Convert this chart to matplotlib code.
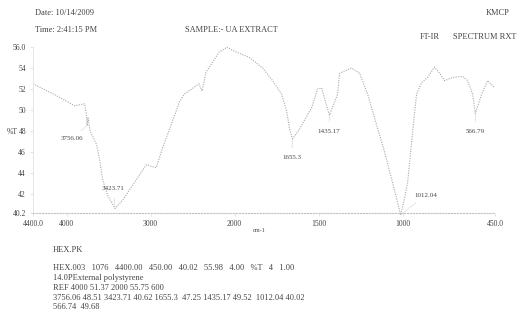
import matplotlib.pyplot as plt
import numpy as np

# traced spectrum (wavenumber cm-1, %T)
wavenum = [4400, 4150, 3903, 3785, 3765, 3756, 3745, 3720, 3643, 3607, 3572, 3512,
           3424, 3335, 3217, 3051, 2933, 2862, 2755, 2660, 2601, 2424, 2388, 2341,
           2282, 2187, 2092, 1988, 1911, 1833, 1774, 1720, 1690, 1673, 1655, 1613,
           1571, 1542, 1506, 1482, 1452, 1435, 1387, 1375, 1304, 1256, 1208, 1155,
           1107, 1060, 1030, 1012, 990, 970, 946, 917, 887, 851, 810, 780, 750, 702,
           643, 613, 583, 567, 530, 494, 452]
trans = [52.5, 51.5, 50.4, 50.6, 49.6, 48.51, 49.3, 48.0, 46.7, 45.3, 43.4, 41.9,
         40.62, 41.4, 42.8, 44.8, 44.5, 46.3, 48.6, 50.7, 51.5, 52.5, 51.8, 53.6,
         54.3, 55.5, 55.98, 55.5, 55.0, 54.0, 52.8, 51.5, 49.9, 48.2, 47.25, 48.2,
         49.4, 50.2, 52.0, 52.1, 50.4, 49.52, 51.5, 53.5, 54.0, 53.5, 51.5, 48.6,
         46.0, 43.1, 41.2, 40.02, 41.5, 43.1, 47.0, 51.5, 52.6, 53.1, 54.1, 53.5,
         52.8, 53.1, 53.2, 52.8, 51.5, 49.68, 51.5, 52.8, 52.1]

peak_w = [3756.06, 3423.71, 1655.3, 1435.17, 1012.04, 566.74]
peak_t = [48.51, 40.62, 47.25, 49.52, 40.02, 49.68]
peak_lbl = ['3756.06', '3423.71', '1655.3', '1435.17', '1012.04', '566.79']
lbl_w = [3938, 3441, 1661, 1440, 863, 568]
lbl_t = [47.3, 42.5, 45.5, 48.0, 41.9, 48.0]

xticks = [4400, 4000, 3000, 2000, 1500, 1000, 450]
xtick_lbl = ['4400.0', '4000', '3000', '2000', '1500', '1000', '450.0']
yticks = [56.0, 54, 52, 50, 48, 46, 44, 42, 40.2]
ytick_lbl = ['56.0', '54', '52', '50', '48', '46', '44', '42', '40.2']

header = [('Date: 10/14/2009', 35, 13), ('Time: 2:41:15 PM', 35, 30),
          ('SAMPLE:- UA EXTRACT', 185, 30), ('KMCP', 486, 13),
          ('FT-IR', 420, 37), ('SPECTRUM RXT', 453, 37)]
footer = [('HEX.PK', 53, 250),
          ('HEX.003   1076   4400.00   450.00   40.02   55.98   4.00   %T   4   1.00', 53, 268),
          ('14.0PExternal polystyrene', 53, 278),
          ('REF 4000 51.37 2000 55.75 600', 53, 288),
          ('3756.06 48.51 3423.71 40.62 1655.3  47.25 1435.17 49.52  1012.04 40.02', 53, 298),
          ('566.74  49.68', 53, 307)]


def fwd(x):
    x = np.asarray(x, dtype=float)
    return np.where(x >= 2000, x, 2 * x - 2000)


def inv(y):
    y = np.asarray(y, dtype=float)
    return np.where(y >= 2000, y, (y + 2000) / 2)


plt.rcParams['font.family'] = ['Liberation Serif', 'DejaVu Serif']
W, H = 523, 315
txt = '#444444'

fig = plt.figure(figsize=(W / 100, H / 100), dpi=100)
ax = fig.add_axes([33 / W, 1 - 213 / H, 462 / W, 166 / H])
ax.set_xscale('function', functions=(fwd, inv))
ax.set_xlim(4400, 450)
ax.set_ylim(40.2, 56.0)

ax.plot(wavenum, trans, color='#a8a8a8', lw=0.8, linestyle=(0, (1, 1.2)), clip_on=False)

for w, t, s, lw_, lt in zip(peak_w, peak_t, peak_lbl, lbl_w, lbl_t):
    ax.annotate(s, xy=(w, t), xytext=(lw_, lt), fontsize=5, color=txt,
                ha='center', va='center', annotation_clip=False,
                arrowprops=dict(arrowstyle='-', color='#c8c8c8', lw=0.5,
                                linestyle=':', shrinkA=3, shrinkB=0))

for s in ['top', 'right']:
    ax.spines[s].set_visible(False)
ax.spines['bottom'].set_color('#c0c0c0')
ax.spines['bottom'].set_linestyle(':')
ax.spines['left'].set_color('#e0e0e0')
ax.spines['left'].set_linewidth(0.6)
ax.axhline(40.2, xmin=0.83, xmax=1.0, color='#888888', lw=0.6)

ax.set_xticks(xticks)
ax.set_xticklabels(xtick_lbl)
ax.set_yticks(yticks)
ax.set_yticklabels(ytick_lbl)
ax.tick_params(axis='both', labelsize=5.5, colors=txt, length=2, width=0.4, pad=3)
ax.tick_params(axis='both', color='#d0d0d0')

fig.text(7 / W, 1 - 132 / H, '%T', fontsize=5.5, color=txt, va='center')
fig.text(253 / W, 1 - 230 / H, 'cm-1', fontsize=4.5, color=txt, va='center')

for s, x, y in header + footer:
    fig.text(x / W, 1 - y / H, s, fontsize=6, color=txt, va='center')

fig.savefig('out.png', dpi=100)
